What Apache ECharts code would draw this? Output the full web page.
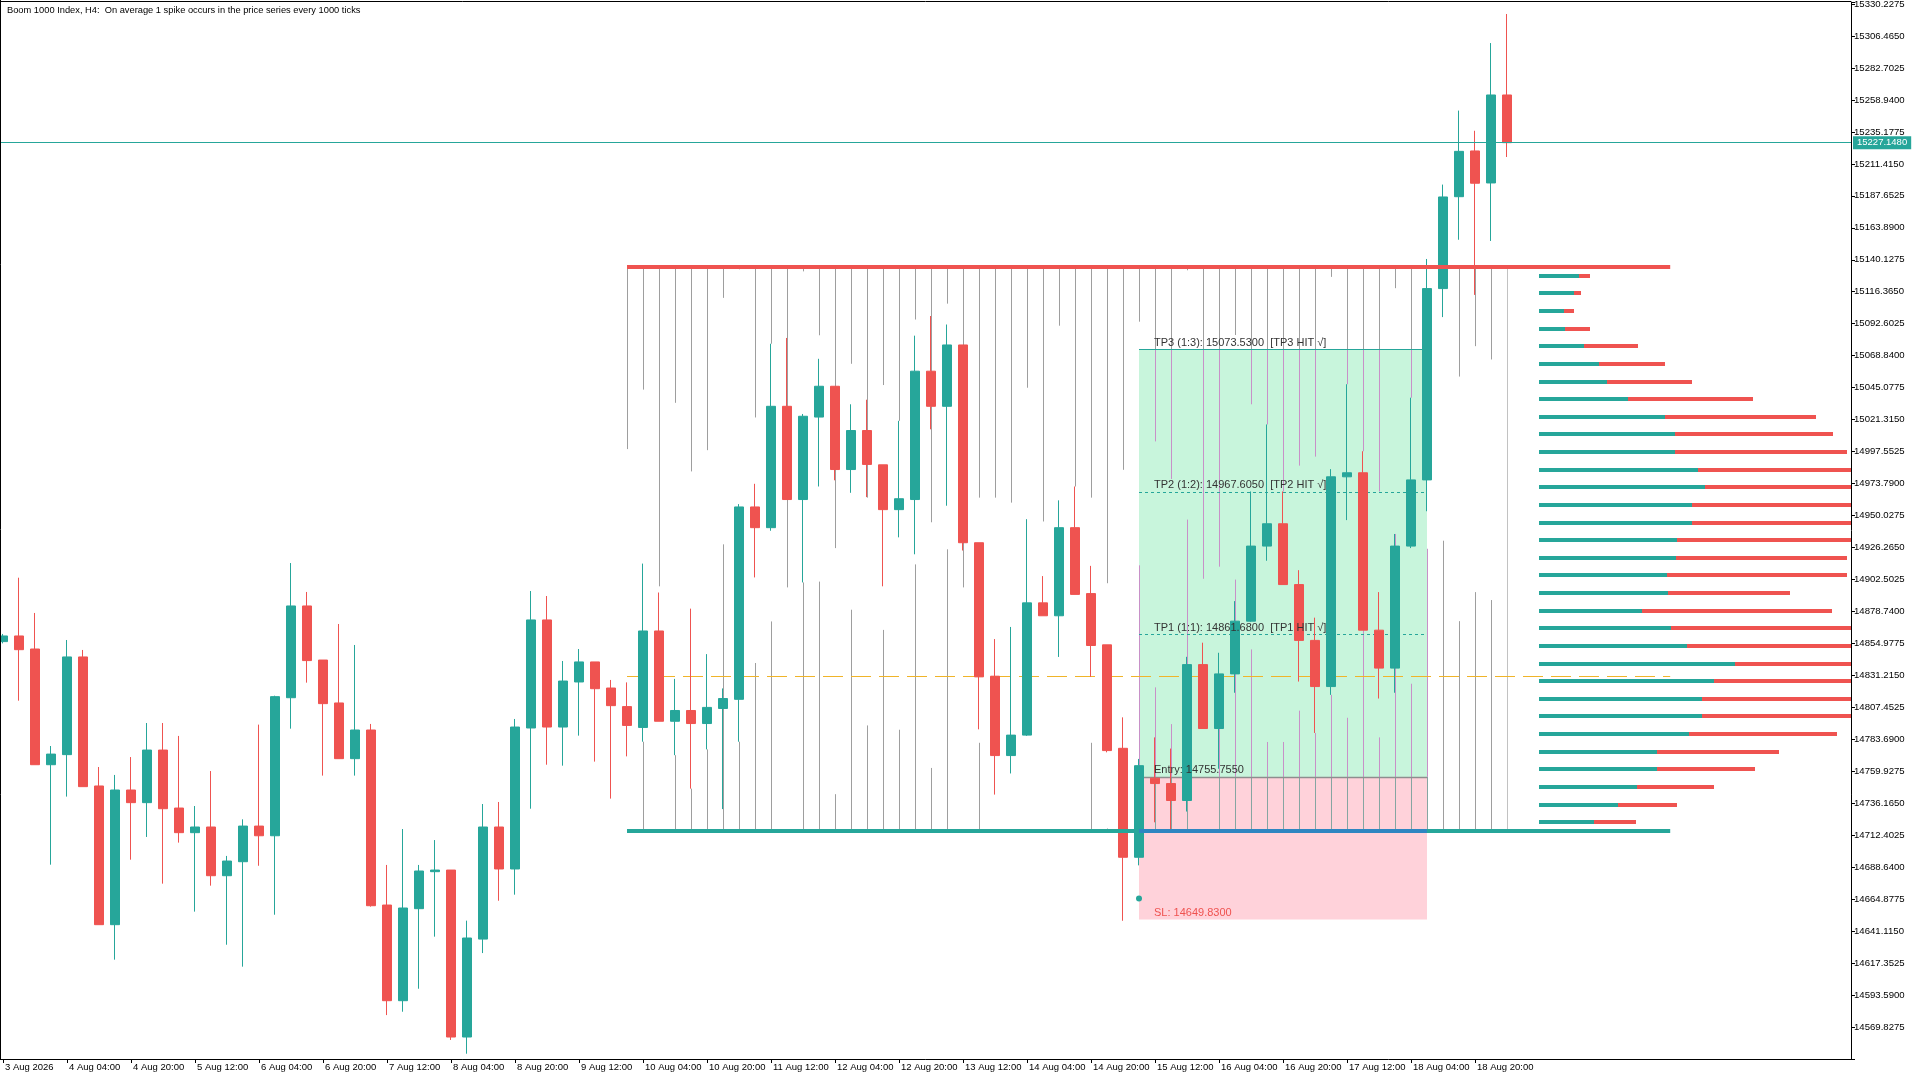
<!DOCTYPE html>
<html><head><meta charset="utf-8">
<script src="https://cdn.jsdelivr.net/npm/echarts@6/dist/echarts.min.js"></script>
<style>html,body{margin:0;padding:0;background:#fff}#c{width:1920px;height:1080px}</style>
</head><body><div id="c"></div>
<script>
const FONT = '"Liberation Sans", Arial, sans-serif';
const titleText = 'Boom 1000 Index, H4:  On average 1 spike occurs in the price series every 1000 ticks';
const tickLabels = ['3 Aug 2026','4 Aug 04:00','4 Aug 20:00','5 Aug 12:00','6 Aug 04:00','6 Aug 20:00','7 Aug 12:00','8 Aug 04:00','8 Aug 20:00','9 Aug 12:00','10 Aug 04:00','10 Aug 20:00','11 Aug 12:00','12 Aug 04:00','12 Aug 20:00','13 Aug 12:00','14 Aug 04:00','14 Aug 20:00','15 Aug 12:00','16 Aug 04:00','16 Aug 20:00','17 Aug 12:00','18 Aug 04:00','18 Aug 20:00'];
const barsPerTick = 4;
const barSlots = 116;

const opens  = [14856.3,14860.5,14850.8,14764.8,14772.3,14844.9,14749.0,14645.9,14746.0,14736.6,14775.7,14732.6,14714.3,14718.5,14682.3,14692.7,14719.2,14712.0,14814.6,14882.8,14842.6,14810.7,14769.3,14790.6,14660.5,14589.4,14657.8,14685.3,14686.5,14562.4,14635.2,14718.5,14687.3,14792.1,14872.4,14792.8,14826.3,14841.2,14821.8,14808.0,14792.5,14864.2,14797.1,14805.1,14795.4,14806.6,14813.4,14956.4,14941.0,15031.2,14961.9,15023.2,15046.1,14984.2,15013.2,14987.7,14954.4,14961.9,15057.3,15031.2,15076.8,14929.8,14830.6,14771.6,14786.8,14885.1,14875.5,14941.0,14892.0,14853.9,14777.0,14696.0,14754.8,14750.8,14738.2,14839.2,14791.7,14832.3,14871.5,14927.3,14943.9,14898.7,14857.2,14822.9,14978.8,14981.8,14864.8,14836.6,14927.3,14976.5,15118.7,15187.0,15221.0,15197.2,15262.6];
const closes = [14860.5,14850.3,14764.8,14772.7,14844.9,14748.5,14645.9,14746.0,14736.6,14775.7,14732.1,14714.3,14718.5,14682.3,14693.2,14719.2,14712.0,14815.4,14882.8,14842.2,14810.2,14769.3,14790.6,14660.0,14589.4,14658.3,14685.8,14686.5,14562.4,14636.0,14718.5,14687.3,14792.8,14872.4,14792.8,14827.0,14841.2,14821.3,14808.7,14794.0,14864.2,14797.1,14805.1,14795.4,14807.4,14814.0,14956.4,14941.0,15031.2,14961.9,15023.8,15046.1,14984.2,15013.2,14988.0,14954.4,14962.5,15057.3,15031.2,15076.8,14929.8,14830.1,14771.6,14786.8,14885.1,14875.5,14941.0,14891.4,14853.4,14775.3,14696.0,14764.1,14750.8,14738.2,14839.2,14791.7,14832.3,14871.5,14927.3,14943.9,14898.7,14857.2,14822.9,14978.8,14981.8,14864.8,14836.6,14927.3,14976.5,15118.7,15186.8,15220.7,15197.0,15262.6,15227.148];
const lows   = [14855.0,14812.4,14764.8,14690.5,14741.1,14748.5,14645.9,14619.9,14694.2,14711.1,14676.4,14706.9,14655.6,14674.9,14631.0,14614.7,14689.7,14653.3,14791.6,14825.8,14756.7,14769.3,14756.7,14659.3,14578.7,14581.2,14598.3,14637.0,14560.2,14550.0,14624.8,14663.7,14668.2,14732.1,14764.8,14764.1,14786.4,14767.1,14739.6,14771.0,14781.9,14797.1,14771.9,14747.0,14776.2,14731.8,14781.9,14904.0,14938.7,14961.9,14900.3,14971.6,14976.2,14966.9,14963.7,14897.4,14933.8,14921.2,15014.1,14957.3,14924.0,14791.1,14742.6,14758.3,14786.2,14875.5,14844.9,14891.4,14830.1,14774.0,14648.8,14690.0,14722.0,14716.6,14730.0,14791.7,14761.8,14818.3,14871.0,14916.4,14898.7,14826.6,14788.4,14816.7,14946.6,14864.8,14814.0,14818.3,14925.8,14953.2,15097.5,15155.0,15114.0,15154.1,15216.5];
const highs  = [14862.0,14903.8,14877.6,14778.7,14857.5,14850.1,14763.1,14757.2,14770.5,14795.8,14795.8,14786.2,14734.1,14760.1,14697.0,14724.2,14794.6,14816.1,14914.7,14893.2,14842.6,14869.4,14853.8,14795.1,14690.3,14717.0,14690.3,14708.8,14686.5,14648.9,14735.6,14737.1,14798.8,14893.9,14890.2,14841.9,14850.8,14841.2,14827.8,14826.0,14914.3,14892.8,14828.6,14880.8,14847.0,14821.5,14958.5,14973.6,15077.7,15082.0,15025.5,15066.5,15046.1,15032.7,15036.1,14987.7,15020.4,15083.7,15098.3,15092.0,15076.8,14929.8,14858.2,14867.2,14947.3,14905.0,14961.3,14971.6,14912.6,14853.9,14800.0,14769.1,14785.1,14776.8,14845.0,14855.5,14848.0,14886.4,14967.9,15017.7,14967.9,14909.4,14874.1,14984.5,15047.6,14997.8,14893.1,14936.3,15037.6,15140.7,15196.0,15251.0,15236.0,15301.2,15322.8];

const priceTicksFrom = 14546.065;
const priceStep = 23.7625;
const priceTop = 15331.71;
const currentPrice = 15227.148;

const rangeHigh = 15134.7, rangeLow = 14715.5, midLevel = 14830.5;
const rangeStartBar = 39, rangeEndBar = 104.2;

const boxStartBar = 71, boxEndBar = 89;
const entry = 14755.755, sl = 14649.83, tp1 = 14861.68, tp2 = 14967.605, tp3 = 15073.53;
const markerBar = 71, markerPrice = 14665.4;

const grayStartBar = 39;
const grayUpper = [14999.4,15043.6,14897.4,15033.8,14982.8,14998.6,15111.8,15133.0,15022.9,15077.7,14896.6,15131.5,15084.0,14925.8,15062.8,14963.3,15047.0,15020.4,15095.7,14945.0,15107.5,14896.6,14963.3,14963.3,14959.6,15045.0,14945.6,15091.1,14971.6,14963.3,14899.7,14984.0,15094.1,15005.1,14977.2,15132.3,14903.0,14912.0,15084.2,15032.7,15017.7,14967.9,14987.1,14993.8,15127.4,15047.6,14997.8,14967.9,15119.0,15037.6,null,null,15053.3,15075.9,15066.0,14715.5];
const grayLower = [null,14781.9,null,14771.9,14747.0,14776.2,14928.6,14781.9,14840.4,14871.3,null,14900.3,14900.9,14742.9,14880.0,14794.0,14865.0,14790.8,14913.7,14762.4,14924.9,null,14781.1,null,null,null,null,null,null,14781.1,14717.4,null,14913.0,14822.3,14795.0,14947.0,null,14791.7,14902.4,14850.5,14781.7,14781.7,14805.0,14788.4,14816.7,14799.7,14864.8,14785.1,14936.3,14825.0,14925.3,14931.3,14871.5,14893.1,14887.2,null];

const profileStartBar = 96;
const profileBuy  = [40,35,25,26,45,60,68,89,126,136,136,159,166,153,153,138,137,128,129,103,132,148,196,175,163,163,150,118,118,98,79,55];
const profileSell = [11,7,10,25,54,66,85,125,151,158,172,200,200,200,200,200,171,180,122,190,220,200,200,200,200,200,148,122,98,77,59,42];

const TEAL = '#26a69a', RED = '#ef5350';

function xAt(api, b){ const i = Math.floor(b), f = b - i; return api.coord([i, rangeLow])[0] + f * api.size([1, 0])[0]; }
function yAt(api, p){ return api.coord([0, p])[1]; }

function renderBoxes(params, api){
  const x1 = xAt(api, boxStartBar), x2 = xAt(api, boxEndBar);
  const yT = yAt(api, tp3), yE = yAt(api, entry), yS = yAt(api, sl);
  return {type:'group', children:[
    {type:'rect', shape:{x:x1, y:yT, width:x2-x1, height:yE-yT}, style:{fill:'#c8f5dc'}},
    {type:'rect', shape:{x:x1, y:yE, width:x2-x1, height:yS-yE}, style:{fill:'#ffd2da'}}
  ]};
}

function renderGray(params, api){
  const children = [];
  const yT = yAt(api, tp3), yE = yAt(api, entry), yS = yAt(api, sl);
  function seg(x, a, b, color){ if (b - a > 0.5) children.push({type:'line', shape:{x1:x, y1:a, x2:x, y2:b}, style:{stroke:color, lineWidth:1}}); }
  for (let k = 0; k < grayUpper.length; k++){
    const bar = grayStartBar + k;
    const x = Math.round(xAt(api, bar)) + 0.5;
    const base = (k === grayUpper.length - 1) ? '#c2c2c2' : '#9e9e9e';
    const parts = [];
    if (grayUpper[k] !== null) parts.push([rangeHigh, grayUpper[k]]);
    if (grayLower[k] !== null) parts.push([grayLower[k], rangeLow]);
    for (const [pa, pb] of parts){
      const ya = yAt(api, pa), yb = yAt(api, pb);
      if (bar >= boxStartBar && bar <= boxEndBar){
        seg(x, ya, Math.min(yb, yT), base);
        seg(x, Math.max(ya, yT), Math.min(yb, yE), '#c890c8');
        seg(x, Math.max(ya, yE), Math.min(yb, yS), '#86a6a2');
        seg(x, Math.max(ya, yS), yb, base);
      } else seg(x, ya, yb, base);
    }
  }
  return {type:'group', children};
}

function renderUnder(params, api){
  const x1 = xAt(api, boxStartBar), x2 = xAt(api, boxEndBar);
  const ym = Math.round(yAt(api, midLevel)) + 0.5;
  const yT = Math.round(yAt(api, tp3)) + 0.5, y2 = Math.round(yAt(api, tp2)) + 0.5, y1 = Math.round(yAt(api, tp1)) + 0.5, yE = Math.round(yAt(api, entry)) + 0.5;
  return {type:'group', children:[
    {type:'line', shape:{x1:xAt(api, rangeStartBar), y1:ym, x2:xAt(api, rangeEndBar), y2:ym}, style:{stroke:'#f0b429', lineWidth:1, lineDash:[20,8]}},
    {type:'line', shape:{x1, y1:yT, x2, y2:yT}, style:{stroke:TEAL, lineWidth:1}},
    {type:'line', shape:{x1, y1:y2, x2, y2:y2}, style:{stroke:TEAL, lineWidth:1, lineDash:[3,3]}},
    {type:'line', shape:{x1, y1:y1, x2, y2:y1}, style:{stroke:TEAL, lineWidth:1, lineDash:[3,3]}},
    {type:'line', shape:{x1, y1:yE, x2, y2:yE}, style:{stroke:'#8e8e8e', lineWidth:1.5}}
  ]};
}

function renderOver(params, api){
  const xs = xAt(api, rangeStartBar), xe = xAt(api, rangeEndBar);
  const x1 = xAt(api, boxStartBar), x2 = xAt(api, boxEndBar);
  const yH = yAt(api, rangeHigh), yL = yAt(api, rangeLow);
  const tx = x1 + 15;
  const txt = (s, p, color) => ({type:'text', style:{text:s, x:tx, y:yAt(api, p) - 1, fill:color, font:'11px ' + FONT, align:'left', verticalAlign:'bottom'}});
  const m = api.coord([markerBar, markerPrice]);
  return {type:'group', children:[
    {type:'line', shape:{x1:xs, y1:yH, x2:xe, y2:yH}, style:{stroke:RED, lineWidth:4}},
    {type:'line', shape:{x1:xs, y1:yL, x2:xe, y2:yL}, style:{stroke:TEAL, lineWidth:4}},
    {type:'line', shape:{x1:x1, y1:yL, x2:x2, y2:yL}, style:{stroke:'#2e86c1', lineWidth:4}},
    txt('TP3 (1:3): ' + tp3.toFixed(4) + '  [TP3 HIT \u221A]', tp3, '#333'),
    txt('TP2 (1:2): ' + tp2.toFixed(4) + '  [TP2 HIT \u221A]', tp2, '#333'),
    txt('TP1 (1:1): ' + tp1.toFixed(4) + '  [TP1 HIT \u221A]', tp1, '#333'),
    txt('Entry: ' + entry.toFixed(4), entry, '#333'),
    txt('SL: ' + sl.toFixed(4), sl, RED),
    {type:'circle', shape:{cx:m[0], cy:m[1], r:3}, style:{fill:TEAL}}
  ]};
}

function renderProfile(params, api){
  const unit = api.size([1, 0])[0] / 16;
  const x0 = xAt(api, profileStartBar);
  const bin = (rangeHigh - rangeLow) / profileBuy.length;
  const children = [];
  for (let k = 0; k < profileBuy.length; k++){
    const y = Math.round(yAt(api, rangeHigh - bin * (k + 0.5)));
    const wb = profileBuy[k] * unit, ws = profileSell[k] * unit;
    children.push({type:'rect', shape:{x:x0, y:y - 2, width:wb, height:4}, style:{fill:TEAL}});
    children.push({type:'rect', shape:{x:x0 + wb, y:y - 2, width:ws, height:4}, style:{fill:RED}});
  }
  return {type:'group', children};
}

const cats = Array.from({length: barSlots}, (_, i) => String(i));
const candleData = opens.map((o, i) => [o, closes[i], lows[i], highs[i]]);
const tickShow = (i) => i % barsPerTick === 0 && (i / barsPerTick) < tickLabels.length;

const chart = echarts.init(document.getElementById('c'), null, {renderer:'canvas'});
chart.setOption({
  animation: false,
  backgroundColor: '#fff',
  title: {text: titleText, left: 2, top: 1, textStyle: {fontSize: 9.3, fontWeight: 'normal', color: '#000', fontFamily: FONT}},
  grid: {left: -5, right: 69, top: 2, bottom: 21, containLabel: false, outerBoundsMode: 'none'},
  xAxis: {
    type: 'category', data: cats, boundaryGap: true,
    axisLine: {show: true, lineStyle: {color: '#000', width: 1}},
    axisTick: {show: true, alignWithLabel: true, length: 4, interval: (i) => tickShow(i), lineStyle: {color: '#000'}},
    axisLabel: {interval: (i) => tickShow(i), formatter: (v, i) => tickShow(i) ? tickLabels[i / barsPerTick] : '', align: 'left', margin: 3, padding: [0,0,0,2], fontSize: 9.5, color: '#000', fontFamily: FONT},
    splitLine: {show: false}
  },
  yAxis: {
    type: 'value', position: 'right', min: priceTicksFrom, max: priceTop, interval: priceStep,
    axisLine: {show: true, lineStyle: {color: '#000', width: 1}},
    axisTick: {show: true, length: 4, lineStyle: {color: '#000'}},
    axisLabel: {margin: 3, fontSize: 9.6, color: '#000', fontFamily: FONT, formatter: (v) => {
      const k = (v - priceTicksFrom) / priceStep; const r = Math.round(k);
      if (Math.abs(k - r) > 1e-3 || r === 0) return '';
      return v.toFixed(4);
    }},
    splitLine: {show: false}
  },
  graphic: [
    {type:'line', shape:{x1:0, y1:1.5, x2:1851, y2:1.5}, style:{stroke:'#000', lineWidth:1}, z:100},
    {type:'line', shape:{x1:0.5, y1:0, x2:0.5, y2:1059}, style:{stroke:'#000', lineWidth:1}, z:100}
  ],
  series: [
    {type:'custom', name:'boxes', data:[[0, rangeLow]], renderItem: renderBoxes, clip:true, z:1, silent:true},
    {type:'custom', name:'gray', data:[[0, rangeLow]], renderItem: renderGray, clip:true, z:2, silent:true},
    {type:'custom', name:'under', data:[[0, rangeLow]], renderItem: renderUnder, clip:true, z:2, silent:true},
    {type:'candlestick', name:'price', data: candleData, barWidth: 10, z:3, silent:true,
      itemStyle: {color: TEAL, color0: RED, borderColor: TEAL, borderColor0: RED, borderWidth: 1},
      markLine: {silent:true, symbol:['none','none'], animation:false,
        data:[{yAxis: currentPrice}],
        lineStyle:{color: TEAL, width:1, type:'solid'},
        label:{position:'end', distance:2, formatter: currentPrice.toFixed(4), color:'#fff', backgroundColor: TEAL, padding:[2,4,1,4], fontSize:9.5, fontFamily: FONT},
        emphasis:{disabled:true}
      }
    },
    {type:'custom', name:'over', data:[[0, rangeLow]], renderItem: renderOver, clip:true, z:4, silent:true},
    {type:'custom', name:'profile', data:[[0, rangeLow]], renderItem: renderProfile, clip:true, z:4, silent:true}
  ]
});
</script>
</body></html>
